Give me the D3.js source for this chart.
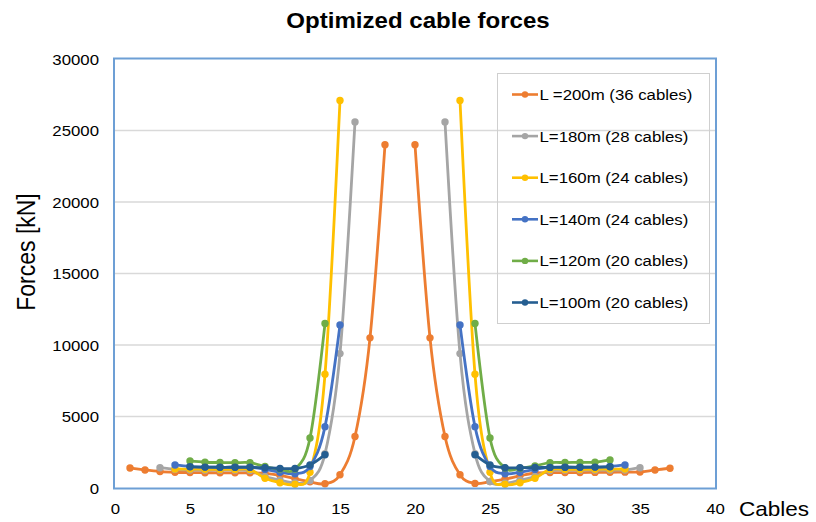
<!DOCTYPE html>
<html><head><meta charset="utf-8">
<script src="https://cdn.jsdelivr.net/npm/d3@7"></script>
<style>body{margin:0;background:#fff} svg{display:block;font-family:"Liberation Sans",Arial,Helvetica,sans-serif}</style>
</head><body><svg id="c" width="816" height="522"></svg>
<script>
// ---------- data ----------
const seriesNames = ["L =200m (36 cables)","L=180m (28 cables)","L=160m (24 cables)","L=140m (24 cables)","L=120m (20 cables)","L=100m (20 cables)"];
const seriesColors = ["#ED7D31","#A5A5A5","#FFC000","#4472C4","#70AD47","#255E91"];
// first cable number of left and right group of each series
const leftStart  = [1, 3, 4, 4, 5, 5];
const rightStart = [20, 22, 23, 23, 24, 24];

const L200_left  = [1400,1260,1150,1100,1080,1070,1060,1060,1060,1030,880,650,430,300,930,3600,10500,24000];
const L200_right = [24000,10500,3600,930,320,450,620,850,1050,1080,1080,1080,1090,1100,1110,1120,1260,1380];
const L180_left  = [1420,1300,1260,1250,1250,1250,1220,800,550,350,520,2400,9400,25600];
const L180_right = [25600,9400,2400,450,330,550,800,1220,1250,1250,1250,1250,1260,1420];
const L160_left  = [1330,1320,1310,1300,1300,1300,680,370,260,1100,7950,27100];
const L160_right = [27100,7950,1100,260,370,680,1300,1300,1300,1310,1320,1330];
const L140_left  = [1610,1500,1460,1450,1450,1450,1300,1100,1000,1500,4290,11400];
const L140_right = [11400,4290,1500,1000,1100,1300,1450,1450,1450,1460,1500,1610];
const L120_left  = [1890,1800,1780,1770,1770,1500,1320,1320,3500,11500];
const L120_right = [11500,3500,1400,1380,1550,1770,1780,1790,1800,1960];
const L100_left  = [1490,1460,1450,1450,1450,1420,1370,1370,1610,2330];
const L100_right = [2330,1610,1420,1420,1430,1440,1450,1450,1460,1490];

const leftValues  = [L200_left, L180_left, L160_left, L140_left, L120_left, L100_left];
const rightValues = [L200_right, L180_right, L160_right, L140_right, L120_right, L100_right];

const xTicks = [0,5,10,15,20,25,30,35,40];
const yTicks = [0,5000,10000,15000,20000,25000,30000];

// ---------- chart ----------
const svg = d3.select("#c");
const SX = 1.12; // horizontal stretch of text in the reference
const x = d3.scaleLinear().domain([0,40]).range([115,715]);
const y = d3.scaleLinear().domain([0,30000]).range([488,59]);

function stext(g, tx, ty, str, size, anchor, weight, sx) {
  return g.append("text")
    .attr("transform", `translate(${tx},${ty}) scale(${sx || SX},1)`)
    .attr("text-anchor", anchor || "start")
    .attr("font-size", size)
    .attr("font-weight", weight || "normal")
    .attr("fill", "#000")
    .text(str);
}

// gridlines
svg.append("g").selectAll("line").data(yTicks.filter(d => d > 0 && d < 30000)).join("line")
  .attr("x1", x(0)).attr("x2", x(40))
  .attr("y1", d => y(d)).attr("y2", d => y(d))
  .attr("stroke", "#d9d9d9").attr("stroke-width", 1.3);

// axes (labels only)
const yAxis = svg.append("g").attr("transform", `translate(${x(0)},0)`)
  .call(d3.axisLeft(y).tickValues(yTicks).tickSize(0).tickPadding(16).tickFormat(d3.format("d")));
yAxis.select(".domain").remove();
yAxis.selectAll("text").attr("font-size", 15).attr("fill", "#000")
  .attr("font-family", "Liberation Sans, Arial, sans-serif")
  .attr("transform", `scale(${SX},1)`)
  .attr("x", -16 / SX).attr("dy", "0.35em");

const xAxis = svg.append("g").attr("transform", `translate(0,${y(0)})`)
  .call(d3.axisBottom(x).tickValues(xTicks).tickSize(0).tickPadding(15).tickFormat(d3.format("d")));
xAxis.select(".domain").remove();
xAxis.selectAll("text").attr("font-size", 15).attr("fill", "#000")
  .attr("font-family", "Liberation Sans, Arial, sans-serif")
  .attr("transform", `scale(${SX},1)`);

// series
const line = d3.line().x(d => x(d[0])).y(d => y(d[1])).curve(d3.curveCardinal.tension(0));
const gS = svg.append("g");
seriesNames.forEach((name, i) => {
  const segs = [
    leftValues[i].map((v, k) => [leftStart[i] + k, v]),
    rightValues[i].map((v, k) => [rightStart[i] + k, v])
  ];
  const g = gS.append("g");
  segs.forEach(seg => {
    g.append("path").attr("d", line(seg)).attr("fill", "none")
      .attr("stroke", seriesColors[i]).attr("stroke-width", 2.8).attr("stroke-linejoin", "round");
  });
  segs.forEach(seg => {
    g.selectAll(null).data(seg).join("circle")
      .attr("cx", d => x(d[0])).attr("cy", d => y(d[1])).attr("r", 3.7)
      .attr("fill", seriesColors[i]);
  });
});

// plot frame
svg.append("rect").attr("x", 114).attr("y", 58.5).attr("width", 602).attr("height", 430)
  .attr("fill", "none").attr("stroke", "#6d9fd5").attr("stroke-width", 2);

// legend
const lg = svg.append("g");
lg.append("rect").attr("x", 497.5).attr("y", 73.5).attr("width", 212).attr("height", 250)
  .attr("fill", "none").attr("stroke", "#cfcfcf").attr("stroke-width", 1);
seriesNames.forEach((name, i) => {
  const ly = 94.5 + i * 41.6;
  lg.append("line").attr("x1", 512).attr("x2", 538).attr("y1", ly).attr("y2", ly)
    .attr("stroke", seriesColors[i]).attr("stroke-width", 2.6);
  lg.append("circle").attr("cx", 525).attr("cy", ly).attr("r", 3.2).attr("fill", seriesColors[i]);
  stext(lg, 539.5, ly + 5.5, name, 15, "start");
});

// titles
stext(svg, 418, 28, "Optimized cable forces", 21.5, "middle", "bold");
stext(svg, 739, 516, "Cables", 20.5, "start", "normal", 1.1);
svg.append("text").attr("transform", "translate(35,252) rotate(-90) scale(1,1.1)")
  .attr("text-anchor", "middle").attr("font-size", 23).attr("fill", "#000")
  .text("Forces [kN]");
</script>
</body></html>
